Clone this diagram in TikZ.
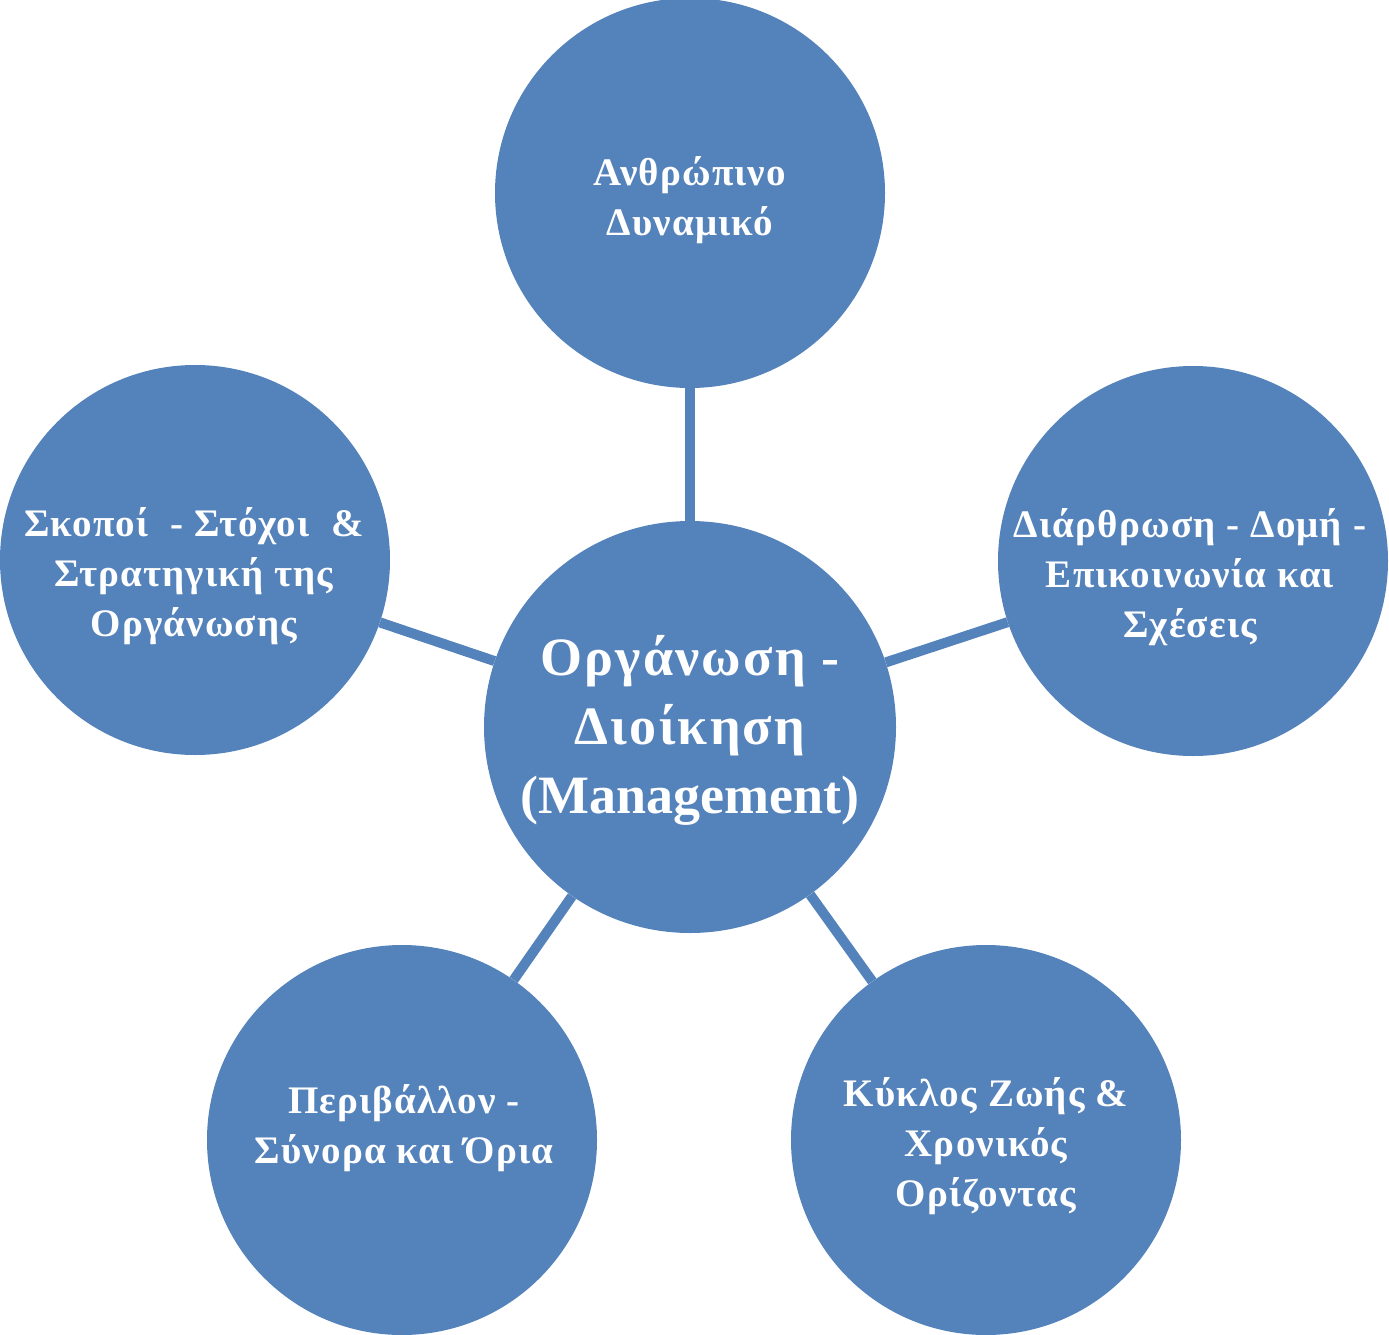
\documentclass[tikz,border=0pt]{standalone}
\usepackage{fontspec}
\setmainfont{Liberation Serif}
\definecolor{cb}{RGB}{84,130,187}
\tikzset{
  circ/.style={circle, fill=cb, inner sep=0pt, minimum size=390pt},
  bigcirc/.style={circle, fill=cb, inner sep=0pt, minimum size=412pt},
  txt/.style={text=white, align=center, inner sep=0pt, font=\bfseries\fontsize{39}{50}\selectfont\addfontfeatures{LetterSpace=3}},
  bigtxt/.style={text=white, align=center, inner sep=0pt, font=\bfseries\fontsize{54}{69}\selectfont},
  link/.style={draw=cb, line width=10pt}
}
\newfontfamily\spacedgreek[LetterSpace=4]{Liberation Serif}
\begin{document}
\begin{tikzpicture}[x=1pt,y=-1pt]
\useasboundingbox (0,0) rectangle (1389,1335);
\node[bigcirc] (c) at (690,727) {};
\node[circ] (t) at (690,193) {};
\node[circ] (r) at (1193,561) {};
\node[circ] (l) at (195,560) {};
\node[circ] (bl) at (402,1140) {};
\node[circ] (br) at (986,1140) {};
\draw[link] (c) -- (t);
\draw[link] (c) -- (r);
\draw[link] (c) -- (l);
\draw[link] (c) -- (bl);
\draw[link] (c) -- (br);
\node[bigtxt] (ct) at (690,730) {{\spacedgreek\bfseries Οργάνωση -}\\{\spacedgreek\bfseries Διοίκηση}\\(Management)};
\node[txt] (tt) at (690,200) {Ανθρώπινο\\Δυναμικό};
\node[txt] (rt) at (1190,577) {Διάρθρωση - Δομή -\\Επικοινωνία και\\Σχέσεις};
\node[txt] (lt) at (194,576) {Σκοποί\ \ - Στόχοι\ \ \&\\Στρατηγική της\\Οργάνωσης};
\node[txt] (blt) at (404,1128) {Περιβάλλον -\\Σύνορα και Όρια};
\node[txt] (brt) at (986,1146) {Κύκλος Ζωής \&\\Χρονικός\\Ορίζοντας};
\end{tikzpicture}
\end{document}
